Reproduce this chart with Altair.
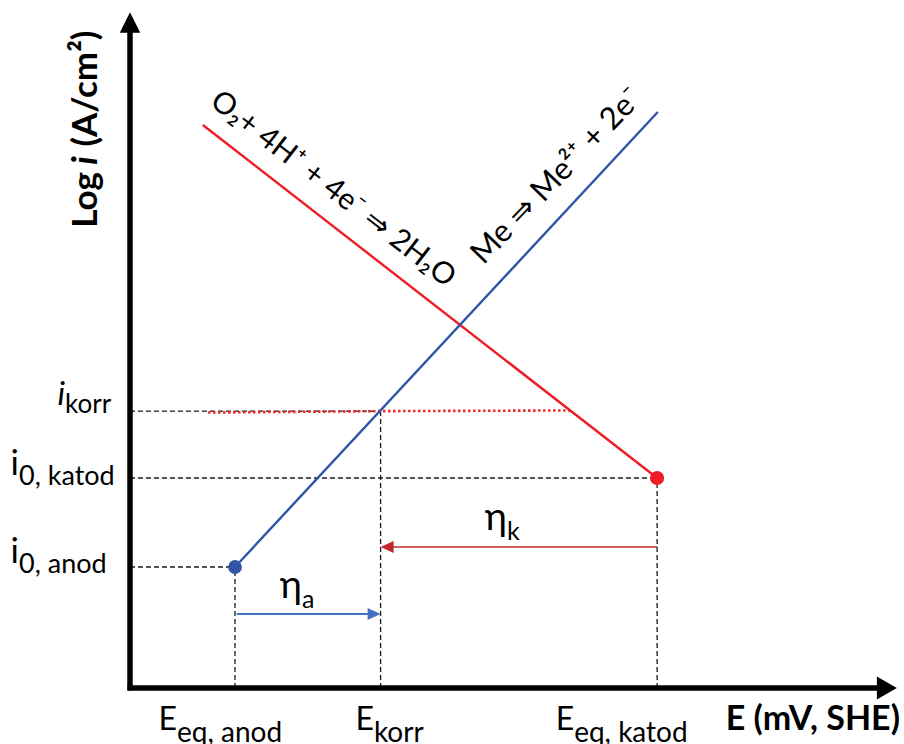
import altair as alt
import pandas as pd

# ---- characteristic potentials / current densities (diagram units) ----
E_EQ_ANOD = 3.0
E_KORR = 7.16
E_EQ_KATOD = 15.06
LOGI_0_ANOD = 3.457
LOGI_0_KATOD = 6.0
LOGI_KORR = 7.91

# anodic branch: Me -> Me2+ + 2e-
anod_E = [3.0, 15.08]
anod_logi = [3.457, 16.457]
# cathodic branch: O2 + 4H+ + 4e- -> 2H2O
katod_E = [2.08, 15.06]
katod_logi = [16.086, 6.0]
# dotted corrosion-current level
korr_E = [2.23, 7.16, 12.6]
korr_logi = [7.87, 7.91, 7.93]

# axis arrow tips
E_AXIS_END = 21.91
LOGI_AXIS_END = 19.31

# overpotential arrows (level on the log i axis)
ETA_A_LEVEL = 2.114
ETA_K_LEVEL = 4.03

FONT = "Lato, 'Noto Sans', 'DejaVu Sans', sans-serif"

xs = alt.Scale(domain=[-3.714, 22.114], nice=False, zero=False)
ys = alt.Scale(domain=[-1.6, 19.657], nice=False, zero=False)


def X(field="E"):
    return alt.X(f"{field}:Q", scale=xs, axis=None)


def Y(field="L"):
    return alt.Y(f"{field}:Q", scale=ys, axis=None)


def rules(df, **kw):
    return alt.Chart(df).mark_rule(**kw).encode(
        x=X("E"), x2="E2:Q", y=Y("L"), y2="L2:Q"
    )


def line(E, L, **kw):
    return alt.Chart(pd.DataFrame({"E": E, "L": L})).mark_line(**kw).encode(
        x=X(), y=Y(), order="i:O"
    ).transform_window(i="row_number()")


def points(E, L, **kw):
    return alt.Chart(pd.DataFrame({"E": E, "L": L})).mark_point(
        filled=True, opacity=1, **kw
    ).encode(x=X(), y=Y())


def texts(E, L, t, **kw):
    return alt.Chart(pd.DataFrame({"E": E, "L": L, "t": t})).mark_text(
        font=FONT, color="black", **kw
    ).encode(x=X(), y=Y(), text="t:N")


layers = []

# dashed guide lines to the axes
guides = pd.DataFrame({
    "E":  [0, E_KORR, 0, E_EQ_KATOD, 0, E_EQ_ANOD],
    "E2": [E_KORR, E_KORR, E_EQ_KATOD, E_EQ_KATOD, E_EQ_ANOD, E_EQ_ANOD],
    "L":  [LOGI_KORR, 0, LOGI_0_KATOD, 0, LOGI_0_ANOD, 0],
    "L2": [LOGI_KORR, LOGI_KORR, LOGI_0_KATOD, LOGI_0_KATOD, LOGI_0_ANOD, LOGI_0_ANOD],
})
layers.append(rules(guides, color="#1a1a1a", strokeWidth=1.3, strokeDash=[5, 3]))

# polarisation lines
layers.append(line(korr_E, korr_logi, color="#EE2A2A", strokeWidth=2.6, strokeDash=[2.5, 2.5]))
layers.append(line(katod_E, katod_logi, color="#EE1C25", strokeWidth=2.4))
layers.append(line(anod_E, anod_logi, color="#2F55A5", strokeWidth=2.4))

# exchange current density points
layers.append(points([E_EQ_ANOD], [LOGI_0_ANOD], shape="circle", size=190, color="#2F55A5"))
layers.append(points([E_EQ_KATOD], [LOGI_0_KATOD], shape="circle", size=200, color="#EE1C25"))

# overpotential arrows
eta_a = pd.DataFrame({"E": [E_EQ_ANOD + 0.05], "E2": [E_KORR - 0.35],
                      "L": [ETA_A_LEVEL], "L2": [ETA_A_LEVEL]})
eta_k = pd.DataFrame({"E": [E_EQ_KATOD], "E2": [E_KORR + 0.35],
                      "L": [ETA_K_LEVEL], "L2": [ETA_K_LEVEL]})
layers.append(rules(eta_a, color="#4472C4", strokeWidth=2))
layers.append(rules(eta_k, color="#C1272D", strokeWidth=1.6))
layers.append(points([E_KORR], [ETA_A_LEVEL], shape="M0,0L-2,-0.92L-2,0.92Z", size=169, color="#4472C4"))
layers.append(points([E_KORR], [ETA_K_LEVEL], shape="M0,0L2,-0.92L2,0.92Z", size=169, color="#C1272D"))

# coordinate axes with arrow heads
axes = pd.DataFrame({"E": [0, -0.07], "E2": [0, E_AXIS_END - 0.3],
                     "L": [-0.07, 0], "L2": [LOGI_AXIS_END - 0.3, 0]})
layers.append(rules(axes, color="black", strokeWidth=5.5, strokeCap="butt"))
layers.append(points([0], [LOGI_AXIS_END], shape="M0,0L-1,2L1,2Z", size=420, color="black"))
layers.append(points([E_AXIS_END], [0], shape="M0,0L-2,-1.15L-2,1.15Z", size=400, color="black"))

# potential labels on the abscissa
layers.append(texts([1.343, 6.97, 12.69], [-1.2] * 3, ["E", "E", "E"],
                    align="right", baseline="alphabetic", fontSize=32))
layers.append(texts([1.343, 6.97, 12.69], [-1.2] * 3, ["eq, anod", "korr", "eq, katod"],
                    align="left", baseline="alphabetic", fontSize=28, dy=12))
layers.append(texts([22.0], [-1.2], ["E (mV, SHE)"],
                    align="right", baseline="alphabetic", fontSize=34, fontWeight="bold"))

# current density labels on the ordinate
layers.append(texts([-1.857], [8.086], ["i"], align="right", baseline="alphabetic",
                    fontSize=33, fontStyle="italic"))
layers.append(texts([-1.857], [8.086], ["korr"], align="left", baseline="alphabetic",
                    fontSize=26, dy=8))
layers.append(texts([-3.171, -3.171], [6.086, 3.571], ["i", "i"], align="right",
                    baseline="alphabetic", fontSize=35))
layers.append(texts([-3.171, -3.171], [6.086, 3.571], ["0, katod", "0, anod"], align="left",
                    baseline="alphabetic", fontSize=27, dy=10))

# ordinate title, written upwards
layers.append(texts([-0.943], [13.15], ["Log"], align="left", baseline="alphabetic",
                    fontSize=35, fontWeight="bold", angle=270))
layers.append(texts([-0.943], [14.95], ["i"], align="left", baseline="alphabetic",
                    fontSize=35, fontWeight="bold", fontStyle="italic", angle=270))
layers.append(texts([-0.943], [15.47], ["(A/cm²)"], align="left", baseline="alphabetic",
                    fontSize=35, fontWeight="bold", angle=270))

# overpotential symbols
layers.append(texts([4.914, 10.77], [2.571, 4.514], ["η", "η"], align="right",
                    baseline="alphabetic", fontSize=38))
layers.append(texts([4.914, 10.77], [2.571, 4.514], ["a", "k"], align="left",
                    baseline="alphabetic", fontSize=25, dy=10))

# reaction labels along the branches
layers.append(texts([5.8], [14.25], ["O₂+ 4H⁺ + 4e⁻ ⇒ 2H₂O"], align="center",
                    baseline="middle", fontSize=30, angle=37.7))
layers.append(texts([12.2], [14.62], ["Me ⇒ Me²⁺ + 2e⁻"], align="center",
                    baseline="middle", fontSize=31, angle=314))

chart = alt.layer(*layers).properties(
    width=904, height=744,
    autosize=alt.AutoSizeParams(type="none"),
    padding=0,
).configure_view(stroke=None)

chart.save("out.html", embed_options={"renderer": "svg", "actions": False})
